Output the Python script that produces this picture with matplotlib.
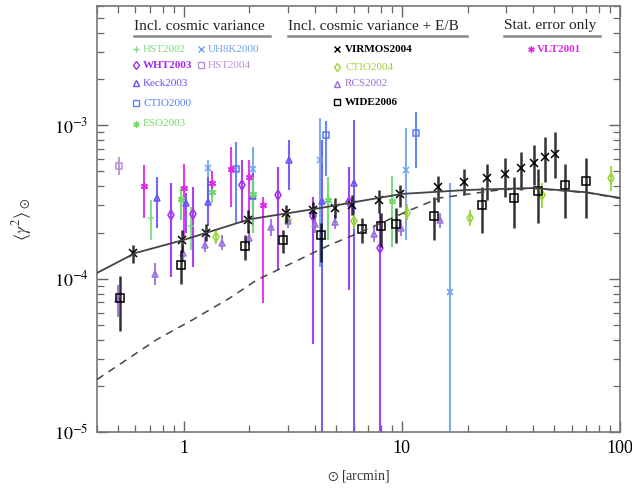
import numpy as np
import matplotlib.pyplot as plt
from matplotlib.lines import Line2D

plt.rcParams['font.family'] = ['Liberation Serif', 'STIXGeneral', 'DejaVu Serif']
plt.rcParams['mathtext.fontset'] = 'stix'

# model curves
model_x = [0.4, 0.6, 1.0, 2.0, 4.0, 10.0, 20.0, 40.0, 70.0, 100.0]
model_y = [1.09e-4, 1.47e-4, 1.79e-4, 2.44e-4, 2.85e-4, 3.57e-4, 3.79e-4, 3.9e-4, 3.66e-4, 3.36e-4]
dash_x = [0.4, 0.75, 1.1, 1.63, 2.16, 4.67, 6.2, 10.9, 14.9, 28.3, 40.0, 70.0, 100.0]
dash_y = [2.2e-5, 4.0e-5, 5.4e-5, 7.5e-5, 9.8e-5, 1.66e-4, 1.96e-4, 2.8e-4, 3.36e-4, 3.8e-4, 3.88e-4, 3.64e-4, 3.34e-4]

# surveys: x, y, lower bound, upper bound
hst2002_x = [0.71, 1.08]
hst2002_y = [2.5e-4, 2.2e-4]
hst2002_lo = [1.79e-4, 1.54e-4]
hst2002_hi = [3.26e-4, 2.93e-4]

uh8k_x = [1.29, 2.08, 4.2, 10.4, 16.6]
uh8k_y = [5.3e-4, 5.2e-4, 5.9e-4, 5.15e-4, 8.2e-5]
uh8k_lo = [2.8e-4, 2.9e-4, 1.19e-4, 1.79e-4, 1e-6]
uh8k_hi = [5.9e-4, 7.2e-4, 1.11e-3, 9.6e-4, 4.2e-4]

wht_x = [0.87, 1.1, 1.84, 2.7, 3.9, 5.7, 7.9]
wht_y = [2.6e-4, 2.64e-4, 4.09e-4, 3.52e-4, 2.56e-4, 3.17e-4, 1.58e-4]
wht_lo = [1.03e-4, 1.19e-4, 2.3e-4, 1.14e-4, 3.75e-5, 8.4e-5, 1e-6]
wht_hi = [4.2e-4, 3.97e-4, 5.9e-4, 5.35e-4, 3.41e-4, 5.35e-4, 2.69e-4]

hst2004_x = [0.503]
hst2004_y = [5.4e-4]
hst2004_lo = [4.75e-4]
hst2004_hi = [6.2e-4]

keck_x = [0.75, 1.02, 1.29, 2.07, 3.04, 4.28, 6.0]
keck_y = [3.35e-4, 3.1e-4, 3.17e-4, 3.45e-4, 5.9e-4, 3.2e-4, 4.2e-4]
keck_lo = [2.15e-4, 2.0e-4, 2.2e-4, 2.2e-4, 3.8e-4, 1e-6, 1e-6]
keck_hi = [4.6e-4, 3.6e-4, 4.6e-4, 4.9e-4, 8.0e-4, 8.0e-4, 1.08e-3]

ctio2000_x = [1.74, 4.48, 11.6]
ctio2000_y = [5.2e-4, 8.6e-4, 8.9e-4]
ctio2000_lo = [2.3e-4, 4.7e-4, 5.3e-4]
ctio2000_hi = [7.8e-4, 1.07e-3, 1.22e-3]

eso_x = [0.97, 1.35, 2.08, 4.6, 9.0]
eso_y = [3.3e-4, 3.65e-4, 3.55e-4, 3.26e-4, 3.2e-4]
eso_lo = [2.4e-4, 3.1e-4, 2.0e-4, 1.79e-4, 1.6e-4]
eso_hi = [3.96e-4, 4.25e-4, 4.6e-4, 4.6e-4, 4.7e-4]

virmos_x = [0.585, 0.98, 1.27, 1.97, 2.93, 3.9, 4.93, 5.9, 7.85, 9.8,
            14.6, 19.3, 24.5, 29.7, 35.1, 40.2, 45.2, 50.3]
virmos_y = [1.47e-4, 1.79e-4, 2.0e-4, 2.4e-4, 2.69e-4, 2.8e-4, 2.9e-4, 3.0e-4, 3.26e-4, 3.57e-4,
            3.98e-4, 4.26e-4, 4.5e-4, 4.8e-4, 5.26e-4, 5.7e-4, 6.2e-4, 6.5e-4]
virmos_lo = [1.26e-4, 1.5e-4, 1.76e-4, 2.0e-4, 2.3e-4, 2.5e-4, 2.5e-4, 2.6e-4, 2.7e-4, 2.94e-4,
             3.15e-4, 3.5e-4, 3.26e-4, 3.4e-4, 3.8e-4, 4.1e-4, 4.3e-4, 4.5e-4]
virmos_hi = [1.66e-4, 2.08e-4, 2.28e-4, 2.8e-4, 3.0e-4, 3.15e-4, 3.35e-4, 3.5e-4, 3.8e-4, 4.09e-4,
             4.7e-4, 5.2e-4, 5.6e-4, 6.1e-4, 6.7e-4, 7.4e-4, 8.4e-4, 9.0e-4]

ctio2004_x = [1.4, 2.99, 6.0, 10.6, 20.5, 44.0, 90.8]
ctio2004_y = [1.88e-4, 2.4e-4, 2.38e-4, 2.7e-4, 2.5e-4, 3.5e-4, 4.5e-4]
ctio2004_lo = [1.69e-4, 2.2e-4, 2.1e-4, 2.4e-4, 2.2e-4, 2.9e-4, 3.75e-4]
ctio2004_hi = [2.09e-4, 2.6e-4, 2.66e-4, 3.05e-4, 2.8e-4, 4.2e-4, 5.4e-4]

rcs_x = [0.5, 0.74, 0.99, 1.25, 1.5, 2.0, 2.5, 3.0, 4.0, 4.95, 7.45, 9.9, 15.0]
rcs_y = [7.4e-5, 1.08e-4, 1.47e-4, 1.66e-4, 1.71e-4, 1.85e-4, 2.16e-4, 2.37e-4, 2.27e-4, 2.34e-4,
         1.95e-4, 2.13e-4, 2.4e-4]
rcs_lo = [5.6e-5, 9.1e-5, 1.28e-4, 1.49e-4, 1.53e-4, 1.65e-4, 1.9e-4, 2.13e-4, 2.0e-4, 2.1e-4,
          1.73e-4, 1.89e-4, 2.13e-4]
rcs_hi = [9.1e-5, 1.27e-4, 1.66e-4, 1.86e-4, 1.92e-4, 2.08e-4, 2.44e-4, 2.64e-4, 2.56e-4, 2.6e-4,
          2.2e-4, 2.4e-4, 2.7e-4]

wide_x = [0.51, 0.976, 1.9, 2.84, 4.24, 6.57, 8.0, 9.4, 14.0, 23.4, 32.6, 42.1, 56.0, 69.8]
wide_y = [7.5e-5, 1.22e-4, 1.63e-4, 1.79e-4, 1.94e-4, 2.12e-4, 2.2e-4, 2.28e-4, 2.56e-4, 3.03e-4,
          3.38e-4, 3.75e-4, 4.1e-4, 4.35e-4]
wide_lo = [4.56e-5, 9.2e-5, 1.32e-4, 1.47e-4, 1.29e-4, 1.7e-4, 1.6e-4, 1.7e-4, 1.79e-4, 1.99e-4,
           2.15e-4, 2.3e-4, 2.5e-4, 2.5e-4]
wide_hi = [1.04e-4, 1.54e-4, 1.93e-4, 2.08e-4, 2.31e-4, 2.5e-4, 2.7e-4, 2.9e-4, 3.4e-4, 3.96e-4,
           4.6e-4, 5.2e-4, 5.6e-4, 6.1e-4]

vlt_x = [0.66, 1.0, 1.35, 1.65, 2.0, 2.3]
vlt_y = [4.0e-4, 3.9e-4, 4.2e-4, 5.2e-4, 4.6e-4, 3.0e-4]
vlt_lo = [2.5e-4, 1.87e-4, 3.5e-4, 2.93e-4, 2.5e-4, 6.9e-5]
vlt_hi = [5.5e-4, 5.6e-4, 5.0e-4, 7.2e-4, 5.9e-4, 3.4e-4]

# name, x, y, lo, hi, marker, color, bold
surveys = [
    ("HST2002", hst2002_x, hst2002_y, hst2002_lo, hst2002_hi, '+', '#7fdc7f', False),
    ("UH8K2000", uh8k_x, uh8k_y, uh8k_lo, uh8k_hi, 'x', '#6fa3ec', False),
    ("WHT2003", wht_x, wht_y, wht_lo, wht_hi, 'd', '#a22cf0', True),
    ("HST2004", hst2004_x, hst2004_y, hst2004_lo, hst2004_hi, 's', '#b891d6', False),
    ("Keck2003", keck_x, keck_y, keck_lo, keck_hi, '^', '#6a50f5', False),
    ("CTIO2000", ctio2000_x, ctio2000_y, ctio2000_lo, ctio2000_hi, 's', '#5a7cf5', False),
    ("ESO2003", eso_x, eso_y, eso_lo, eso_hi, (6, 2, 0), '#6cd86c', False),
    ("VLT2001", vlt_x, vlt_y, vlt_lo, vlt_hi, (6, 2, 0), '#e028e8', True),
    ("CTIO2004", ctio2004_x, ctio2004_y, ctio2004_lo, ctio2004_hi, 'd', '#9ad43a', False),
    ("RCS2002", rcs_x, rcs_y, rcs_lo, rcs_hi, '^', '#9b70d6', False),
    ("VIRMOS2004", virmos_x, virmos_y, virmos_lo, virmos_hi, 'x', 'black', True),
    ("WIDE2006", wide_x, wide_y, wide_lo, wide_hi, 's', 'black', True),
]

# legend layout in pixels (marker x, text x, y)
legend_pos = {
    "HST2002": (136, 143, 49), "WHT2003": (136, 143, 65), "Keck2003": (136, 143, 83),
    "CTIO2000": (136, 143, 103), "ESO2003": (136, 143, 124),
    "UH8K2000": (201, 208, 49), "HST2004": (201, 208, 65),
    "VIRMOS2004": (337, 345, 49), "CTIO2004": (337, 345, 67), "RCS2002": (337, 345, 84),
    "WIDE2006": (337, 345, 102), "VLT2001": (531, 537, 49),
}
headings = [("Incl. cosmic variance", 134, 270), ("Incl. cosmic variance + E/B", 288, 467),
            ("Stat. error only", 504, 600)]

W, H = 632, 488
fig = plt.figure(figsize=(W / 100, H / 100), dpi=100)
ax = fig.add_axes([97 / W, 1 - 432 / H, (620 - 97) / W, (432 - 6) / H])

for name, xs, ys, lo, hi, mk, col, bold in surveys:
    xs = np.array(xs)
    ys = np.array(ys)
    yerr = [ys - np.array(lo), np.array(hi) - ys]
    black = col == 'black'
    ax.errorbar(xs, ys, yerr=yerr, fmt='none', ecolor=col, elinewidth=1.8 if black else 1.5,
                capsize=0, zorder=4 if black else 2, alpha=0.8 if black else 0.9)
    mfc = 'none' if mk in ('d', 's', '^') else col
    ax.plot(xs, ys, linestyle='none', marker=mk, ms=5.5 if black else 5, mec=col, mfc=mfc,
            mew=1.1, zorder=5 if black else 3)
    mx, tx, ty = legend_pos[name]
    fig.add_artist(Line2D([mx / W], [1 - ty / H], marker=mk, ms=4.5, mec=col, mfc=mfc,
                          mew=1.0, linestyle='none'))
    fig.text(tx / W, 1 - ty / H, name, color=col, fontsize=8, va='center', ha='left',
             fontweight='bold' if bold else 'normal')

ax.plot(model_x, model_y, color='#444444', lw=1.3, zorder=6)
ax.plot(dash_x, dash_y, color='#444444', lw=1.1, ls=(0, (5, 4)), zorder=6)

for txt, x0, x1 in headings:
    fig.text(x0 / W, 1 - 26 / H, txt, fontsize=11, va='center', ha='left', color='#222222')
    fig.add_artist(Line2D([x0 / W, x1 / W], [1 - 36 / H, 1 - 36 / H], color='#888888', lw=1.8))

ax.set_xscale('log')
ax.set_yscale('log')
ax.set_xlim(0.4, 100)
ax.set_ylim(1e-5, 6e-3)
ax.set_xticks([1, 10, 100])
ax.set_xticklabels(['1', '10', '100'])
ax.set_yticks([1e-5, 1e-4, 1e-3])
ax.set_yticklabels([r'$10^{-5}$', r'$10^{-4}$', r'$10^{-3}$'])
ax.tick_params(which='both', direction='in', top=True, right=True, color='#666666',
               labelsize=13, pad=6)
ax.tick_params(which='major', length=8, width=1.0)
ax.tick_params(which='minor', length=5, width=0.9)
for sp in ax.spines.values():
    sp.set_color('#777777')
    sp.set_linewidth(1.2)

ax.set_xlabel(r'$\odot$ [arcmin]', fontsize=10, color='#333333', labelpad=8)
ax.set_ylabel(r'$\langle\gamma^2\rangle_\odot$', fontsize=13, color='#333333', labelpad=14)

fig.savefig('out.png', dpi=100)
